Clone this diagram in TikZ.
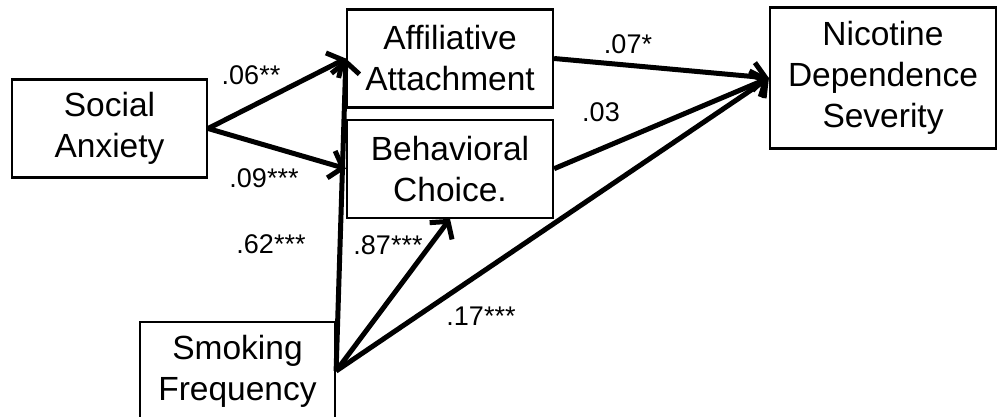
\documentclass[tikz,border=0pt]{standalone}
\usepackage{fontspec}
\setmainfont{Liberation Sans}
\usetikzlibrary{arrows.meta, positioning}

\begin{document}
\begin{tikzpicture}[
  x=1pt, y=-1pt,
  box/.style={rectangle, draw, line width=2.2pt, minimum width=195pt, minimum height=98pt, inner sep=0pt, align=center, font=\fontsize{33.5}{41}\selectfont},
  arr/.style={-{Straight Barb[length=12pt,width=28pt]}, line width=5pt},
  coef/.style={font=\fontsize{27}{30}\selectfont, inner sep=0pt},
]
\useasboundingbox (0,0) rectangle (998,417);

\node[box] (sa) at (109.5,128.5) {Social\\Anxiety};
\node[box, minimum width=206pt] (aa) at (450,58.5) {Affiliative\\Attachment};
\node[box, minimum width=206pt, below=10pt of aa] (bc) {Behavioral\\Choice.};
\node[box, minimum width=226pt, minimum height=141pt] (nds) at (883,78) {Nicotine\\Dependence\\Severity};
\node[box] (sf) at (237.5,371) {Smoking\\Frequency};

\draw[arr] (sa.east) -- (aa.west);
\draw[arr] (sa.east) -- (bc.west);
\draw[arr] (sf.east) -- (aa.west);
\draw[arr] (sf.east) -- (bc.south);
\draw[arr] (sf.east) -- (nds.west);
\draw[arr] (aa.east) -- (nds.west);
\draw[arr] (bc.east) -- (nds.west);

\node[coef] (c1) at (251,75) {.06**};
\node[coef] (c2) at (264,178) {.09***};
\node[coef] (c3) at (628,44) {.07*};
\node[coef] (c4) at (601,112) {.03};
\node[coef] (c5) at (271,244) {.62***};
\node[coef] (c6) at (388,245) {.87***};
\node[coef] (c7) at (481,316) {.17***};
\end{tikzpicture}
\end{document}
